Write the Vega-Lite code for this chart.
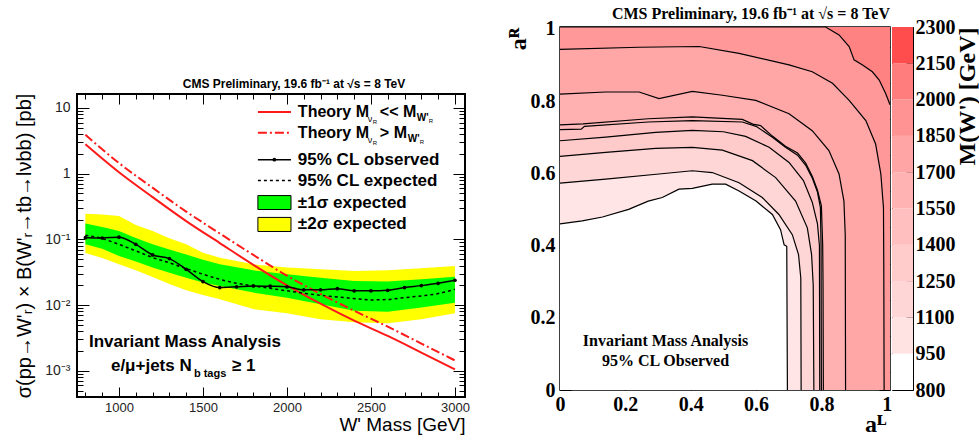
{
"$schema": "https://vega.github.io/schema/vega-lite/v6.json",
"background": "white",
"padding": {"left": 13, "top": 5, "right": 5, "bottom": 5},
"bounds": "full",
"align": "none",
"spacing": 34,
"config": {
  "view": {"stroke": null},
  "font": "Liberation Sans",
  "axis": {"grid": false, "domain": false, "tickColor": "black", "labelColor": "black", "titleColor": "black", "labelFlush": false, "labelOverlap": false, "tickWidth": 1, "zindex": 1}
},
"datasets": {
  "bands": [
    {"mass": 800, "m2": 0.062, "m1": 0.084, "p1": 0.175, "p2": 0.245},
    {"mass": 900, "m2": 0.052, "m1": 0.072, "p1": 0.155, "p2": 0.24},
    {"mass": 1000, "m2": 0.0417, "m1": 0.0559, "p1": 0.134, "p2": 0.226},
    {"mass": 1100, "m2": 0.034, "m1": 0.046, "p1": 0.105, "p2": 0.165},
    {"mass": 1200, "m2": 0.0268, "m1": 0.0372, "p1": 0.084, "p2": 0.134},
    {"mass": 1300, "m2": 0.021, "m1": 0.031, "p1": 0.07, "p2": 0.104},
    {"mass": 1400, "m2": 0.0168, "m1": 0.0262, "p1": 0.059, "p2": 0.084},
    {"mass": 1500, "m2": 0.0142, "m1": 0.022, "p1": 0.049, "p2": 0.0628},
    {"mass": 1600, "m2": 0.0123, "m1": 0.0196, "p1": 0.0417, "p2": 0.0527},
    {"mass": 1800, "m2": 0.0087, "m1": 0.0155, "p1": 0.0338, "p2": 0.0417},
    {"mass": 2000, "m2": 0.0075, "m1": 0.013, "p1": 0.0295, "p2": 0.0372},
    {"mass": 2200, "m2": 0.0061, "m1": 0.0103, "p1": 0.0262, "p2": 0.035},
    {"mass": 2400, "m2": 0.0055, "m1": 0.0082, "p1": 0.0233, "p2": 0.033},
    {"mass": 2600, "m2": 0.0053, "m1": 0.0079, "p1": 0.0228, "p2": 0.0338},
    {"mass": 2800, "m2": 0.0061, "m1": 0.0092, "p1": 0.0247, "p2": 0.0363},
    {"mass": 3000, "m2": 0.0075, "m1": 0.0109, "p1": 0.0271, "p2": 0.0394}
  ],
  "limits": [
    {"mass": 800, "obs": 0.106, "exp": 0.116},
    {"mass": 900, "obs": 0.105, "exp": 0.103},
    {"mass": 1000, "obs": 0.108, "exp": 0.084},
    {"mass": 1100, "obs": 0.084, "exp": 0.067},
    {"mass": 1200, "obs": 0.058, "exp": 0.053},
    {"mass": 1300, "obs": 0.051, "exp": 0.044},
    {"mass": 1400, "obs": 0.035, "exp": 0.036},
    {"mass": 1500, "obs": 0.0228, "exp": 0.0295},
    {"mass": 1600, "obs": 0.0185, "exp": 0.0247},
    {"mass": 1700, "obs": 0.019, "exp": 0.0215},
    {"mass": 1800, "obs": 0.0196, "exp": 0.0196},
    {"mass": 1900, "obs": 0.0194, "exp": 0.018},
    {"mass": 2000, "obs": 0.019, "exp": 0.0165},
    {"mass": 2100, "obs": 0.0171, "exp": 0.0152},
    {"mass": 2200, "obs": 0.0171, "exp": 0.0141},
    {"mass": 2300, "obs": 0.0178, "exp": 0.0133},
    {"mass": 2400, "obs": 0.0165, "exp": 0.0126},
    {"mass": 2500, "obs": 0.0165, "exp": 0.012},
    {"mass": 2600, "obs": 0.0168, "exp": 0.0122},
    {"mass": 2700, "obs": 0.0185, "exp": 0.013},
    {"mass": 2800, "obs": 0.0198, "exp": 0.0138},
    {"mass": 2900, "obs": 0.0215, "exp": 0.015},
    {"mass": 3000, "obs": 0.0239, "exp": 0.0174}
  ],
  "theory": [
    {"mass": 800, "th1": 2.8, "th2": 3.9},
    {"mass": 1000, "th1": 1.05, "th2": 1.45},
    {"mass": 1200, "th1": 0.44, "th2": 0.61},
    {"mass": 1400, "th1": 0.19, "th2": 0.265},
    {"mass": 1600, "th1": 0.088, "th2": 0.123},
    {"mass": 1800, "th1": 0.041, "th2": 0.058},
    {"mass": 2000, "th1": 0.02, "th2": 0.028},
    {"mass": 2200, "th1": 0.0105, "th2": 0.0148},
    {"mass": 2400, "th1": 0.0058, "th2": 0.0082},
    {"mass": 2600, "th1": 0.0034, "th2": 0.0047},
    {"mass": 2800, "th1": 0.0019, "th2": 0.0026},
    {"mass": 3000, "th1": 0.00105, "th2": 0.00144}
  ],
  "scale": [
    {"lo": 800, "hi": 950}, {"lo": 950, "hi": 1100}, {"lo": 1100, "hi": 1250}, {"lo": 1250, "hi": 1400},
    {"lo": 1400, "hi": 1550}, {"lo": 1550, "hi": 1700}, {"lo": 1700, "hi": 1850}, {"lo": 1850, "hi": 2000},
    {"lo": 2000, "hi": 2150}, {"lo": 2150, "hi": 2300}
  ],
  "contours": [
    {"lev": 950, "i": 0, "x": 0, "y": 0.46}, {"lev": 950, "i": 1, "x": 0.068, "y": 0.468}, {"lev": 950, "i": 2, "x": 0.13, "y": 0.479},
    {"lev": 950, "i": 3, "x": 0.21, "y": 0.5}, {"lev": 950, "i": 4, "x": 0.27, "y": 0.523}, {"lev": 950, "i": 5, "x": 0.313, "y": 0.533},
    {"lev": 950, "i": 6, "x": 0.364, "y": 0.556}, {"lev": 950, "i": 7, "x": 0.405, "y": 0.558}, {"lev": 950, "i": 8, "x": 0.466, "y": 0.57},
    {"lev": 950, "i": 9, "x": 0.507, "y": 0.57}, {"lev": 950, "i": 10, "x": 0.548, "y": 0.551}, {"lev": 950, "i": 11, "x": 0.6, "y": 0.523},
    {"lev": 950, "i": 12, "x": 0.65, "y": 0.486}, {"lev": 950, "i": 13, "x": 0.675, "y": 0.444}, {"lev": 950, "i": 14, "x": 0.686, "y": 0.402},
    {"lev": 950, "i": 15, "x": 0.694, "y": 0.398}, {"lev": 950, "i": 16, "x": 0.695, "y": 0.2}, {"lev": 950, "i": 17, "x": 0.696, "y": 0},
    {"lev": 1100, "i": 0, "x": 0, "y": 0.5725}, {"lev": 1100, "i": 1, "x": 0.14, "y": 0.584}, {"lev": 1100, "i": 2, "x": 0.303, "y": 0.598},
    {"lev": 1100, "i": 3, "x": 0.405, "y": 0.607}, {"lev": 1100, "i": 4, "x": 0.466, "y": 0.602}, {"lev": 1100, "i": 5, "x": 0.548, "y": 0.574},
    {"lev": 1100, "i": 6, "x": 0.619, "y": 0.533}, {"lev": 1100, "i": 7, "x": 0.67, "y": 0.486}, {"lev": 1100, "i": 8, "x": 0.711, "y": 0.43},
    {"lev": 1100, "i": 9, "x": 0.73, "y": 0.375}, {"lev": 1100, "i": 10, "x": 0.737, "y": 0.31}, {"lev": 1100, "i": 11, "x": 0.738, "y": 0},
    {"lev": 1250, "i": 0, "x": 0, "y": 0.647}, {"lev": 1250, "i": 1, "x": 0.14, "y": 0.658}, {"lev": 1250, "i": 2, "x": 0.293, "y": 0.669},
    {"lev": 1250, "i": 3, "x": 0.405, "y": 0.672}, {"lev": 1250, "i": 4, "x": 0.497, "y": 0.664}, {"lev": 1250, "i": 5, "x": 0.589, "y": 0.635},
    {"lev": 1250, "i": 6, "x": 0.66, "y": 0.588}, {"lev": 1250, "i": 7, "x": 0.721, "y": 0.523}, {"lev": 1250, "i": 8, "x": 0.757, "y": 0.449},
    {"lev": 1250, "i": 9, "x": 0.77, "y": 0.375}, {"lev": 1250, "i": 10, "x": 0.775, "y": 0.291}, {"lev": 1250, "i": 11, "x": 0.777, "y": 0},
    {"lev": 1400, "i": 0, "x": 0, "y": 0.69}, {"lev": 1400, "i": 1, "x": 0.14, "y": 0.7}, {"lev": 1400, "i": 2, "x": 0.293, "y": 0.713},
    {"lev": 1400, "i": 3, "x": 0.405, "y": 0.719}, {"lev": 1400, "i": 4, "x": 0.5, "y": 0.715}, {"lev": 1400, "i": 5, "x": 0.568, "y": 0.702},
    {"lev": 1400, "i": 6, "x": 0.64, "y": 0.672}, {"lev": 1400, "i": 7, "x": 0.701, "y": 0.63}, {"lev": 1400, "i": 8, "x": 0.745, "y": 0.58},
    {"lev": 1400, "i": 9, "x": 0.772, "y": 0.52}, {"lev": 1400, "i": 10, "x": 0.788, "y": 0.46}, {"lev": 1400, "i": 11, "x": 0.794, "y": 0.4},
    {"lev": 1400, "i": 12, "x": 0.795, "y": 0},
    {"lev": 1550, "i": 0, "x": 0, "y": 0.721}, {"lev": 1550, "i": 1, "x": 0.065, "y": 0.722}, {"lev": 1550, "i": 2, "x": 0.075, "y": 0.73},
    {"lev": 1550, "i": 3, "x": 0.27, "y": 0.742}, {"lev": 1550, "i": 4, "x": 0.405, "y": 0.746}, {"lev": 1550, "i": 5, "x": 0.558, "y": 0.742},
    {"lev": 1550, "i": 6, "x": 0.6, "y": 0.73}, {"lev": 1550, "i": 7, "x": 0.65, "y": 0.7}, {"lev": 1550, "i": 8, "x": 0.69, "y": 0.672},
    {"lev": 1550, "i": 9, "x": 0.727, "y": 0.65}, {"lev": 1550, "i": 10, "x": 0.752, "y": 0.622}, {"lev": 1550, "i": 11, "x": 0.773, "y": 0.585},
    {"lev": 1550, "i": 12, "x": 0.788, "y": 0.548}, {"lev": 1550, "i": 13, "x": 0.797, "y": 0.505}, {"lev": 1550, "i": 14, "x": 0.799, "y": 0.4},
    {"lev": 1550, "i": 15, "x": 0.8, "y": 0},
    {"lev": 1700, "i": 0, "x": 0, "y": 0.734}, {"lev": 1700, "i": 1, "x": 0.07, "y": 0.737}, {"lev": 1700, "i": 2, "x": 0.27, "y": 0.751},
    {"lev": 1700, "i": 3, "x": 0.405, "y": 0.756}, {"lev": 1700, "i": 4, "x": 0.558, "y": 0.749}, {"lev": 1700, "i": 5, "x": 0.59, "y": 0.736},
    {"lev": 1700, "i": 6, "x": 0.614, "y": 0.732}, {"lev": 1700, "i": 7, "x": 0.65, "y": 0.703}, {"lev": 1700, "i": 8, "x": 0.69, "y": 0.675},
    {"lev": 1700, "i": 9, "x": 0.727, "y": 0.656}, {"lev": 1700, "i": 10, "x": 0.752, "y": 0.628}, {"lev": 1700, "i": 11, "x": 0.773, "y": 0.59},
    {"lev": 1700, "i": 12, "x": 0.788, "y": 0.553}, {"lev": 1700, "i": 13, "x": 0.8, "y": 0.51}, {"lev": 1700, "i": 14, "x": 0.804, "y": 0.4},
    {"lev": 1700, "i": 15, "x": 0.805, "y": 0.3}, {"lev": 1700, "i": 16, "x": 0.806, "y": 0},
    {"lev": 1850, "i": 0, "x": 0, "y": 0.819}, {"lev": 1850, "i": 1, "x": 0.14, "y": 0.825}, {"lev": 1850, "i": 2, "x": 0.242, "y": 0.825},
    {"lev": 1850, "i": 3, "x": 0.303, "y": 0.807}, {"lev": 1850, "i": 4, "x": 0.405, "y": 0.827}, {"lev": 1850, "i": 5, "x": 0.497, "y": 0.816},
    {"lev": 1850, "i": 6, "x": 0.599, "y": 0.802}, {"lev": 1850, "i": 7, "x": 0.701, "y": 0.765}, {"lev": 1850, "i": 8, "x": 0.772, "y": 0.718},
    {"lev": 1850, "i": 9, "x": 0.823, "y": 0.663}, {"lev": 1850, "i": 10, "x": 0.854, "y": 0.598}, {"lev": 1850, "i": 11, "x": 0.869, "y": 0.523},
    {"lev": 1850, "i": 12, "x": 0.873, "y": 0.43}, {"lev": 1850, "i": 13, "x": 0.874, "y": 0},
    {"lev": 2000, "i": 0, "x": 0, "y": 0.943}, {"lev": 2000, "i": 1, "x": 0.242, "y": 0.949}, {"lev": 2000, "i": 2, "x": 0.426, "y": 0.951},
    {"lev": 2000, "i": 3, "x": 0.548, "y": 0.932}, {"lev": 2000, "i": 4, "x": 0.701, "y": 0.9}, {"lev": 2000, "i": 5, "x": 0.772, "y": 0.881},
    {"lev": 2000, "i": 6, "x": 0.834, "y": 0.849}, {"lev": 2000, "i": 7, "x": 0.885, "y": 0.802}, {"lev": 2000, "i": 8, "x": 0.936, "y": 0.746},
    {"lev": 2000, "i": 9, "x": 0.966, "y": 0.681}, {"lev": 2000, "i": 10, "x": 0.982, "y": 0.598}, {"lev": 2000, "i": 11, "x": 0.99, "y": 0.505},
    {"lev": 2000, "i": 12, "x": 0.991, "y": 0.337}, {"lev": 2000, "i": 13, "x": 0.992, "y": 0},
    {"lev": 2150, "i": 0, "x": 0, "y": 1.005}, {"lev": 2150, "i": 1, "x": 0.813, "y": 1.005}, {"lev": 2150, "i": 2, "x": 0.854, "y": 0.983},
    {"lev": 2150, "i": 3, "x": 0.885, "y": 0.951}, {"lev": 2150, "i": 4, "x": 0.9, "y": 0.914}, {"lev": 2150, "i": 5, "x": 0.926, "y": 0.9},
    {"lev": 2150, "i": 6, "x": 0.956, "y": 0.881}, {"lev": 2150, "i": 7, "x": 0.977, "y": 0.858}, {"lev": 2150, "i": 8, "x": 0.997, "y": 0.82},
    {"lev": 2150, "i": 9, "x": 1.01, "y": 0.79}
  ]
},
"hconcat": [
  {
    "bounds": "flush",
    "spacing": 0,
    "vconcat": [
      {"width": 388, "height": 89, "view": {"fill": "white", "stroke": null}, "data": {"values": [{}]}, "mark": {"type": "text", "text": ""}},
      {
        "width": 388, "height": 303,
        "title": {"text": "CMS Preliminary, 19.6 fb⁻¹ at √s = 8 TeV", "frame": "group", "font": "Liberation Sans", "fontSize": 12, "fontWeight": "bold", "anchor": "middle", "dx": 23, "offset": 2, "color": "black"},
        "view": {"stroke": "black", "strokeWidth": 2},
        "resolve": {"axis": {"x": "independent", "y": "independent"}},
        "layer": [
          {
            "layer": [
              {
                "data": {"name": "bands"},
                "mark": {"type": "area", "color": "#ffff00", "opacity": 1},
                "encoding": {
                  "x": {"field": "mass", "type": "quantitative", "scale": {"domain": [750, 3060], "nice": false, "zero": false},
                        "axis": {"orient": "bottom", "values": [1000, 1500, 2000, 2500, 3000], "format": "d", "labelOverlap": false,
                                 "tickSize": -10, "labelFontSize": 13, "labelColor": "#222", "labelPadding": 14,
                                 "title": "W' Mass [GeV]", "titleFontSize": 19, "titleFontWeight": "normal", "titleAnchor": "end", "titlePadding": 1}},
                  "y": {"field": "p2", "type": "quantitative", "scale": {"type": "log", "domain": [0.0004, 16.3], "nice": false},
                        "axis": {"orient": "left", "values": [0.001, 0.01, 0.1, 1, 10],
                                 "labelExpr": "datum.value > 9.5 ? '10' : datum.value > 0.95 ? '1' : datum.value > 0.095 ? '10⁻¹' : datum.value > 0.0095 ? '10⁻²' : '10⁻³'",
                                 "labelOverlap": false, "tickSize": -12, "labelFontSize": 14, "labelColor": "#222", "labelPadding": 19,
                                 "title": "σ(pp→W'ᵣ) × B(W'ᵣ→tb→lνbb) [pb]", "titleFontSize": 20, "titleFontWeight": "normal", "titlePadding": 10}},
                  "y2": {"field": "m2"}
                }
              },
              {
                "data": {"name": "bands"},
                "mark": {"type": "area", "color": "#00ff00", "opacity": 1},
                "encoding": {"x": {"field": "mass", "type": "quantitative"}, "y": {"field": "p1", "type": "quantitative"}, "y2": {"field": "m1"}}
              },
              {
                "data": {"name": "theory"},
                "mark": {"type": "line", "color": "#ff1a1a", "strokeWidth": 2, "interpolate": "monotone"},
                "encoding": {"x": {"field": "mass", "type": "quantitative"}, "y": {"field": "th1", "type": "quantitative"}}
              },
              {
                "data": {"values": [{}]},
                "mark": {"type": "rule", "color": "#ff1a1a", "strokeWidth": 2},
                "encoding": {"x": {"datum": 1827}, "x2": {"datum": 2024}, "y": {"datum": 8.7}}
              },
              {
                "data": {"values": [{}]},
                "mark": {"type": "rule", "color": "#ff1a1a", "strokeWidth": 2, "strokeDash": [9, 3, 2, 3]},
                "encoding": {"x": {"datum": 1827}, "x2": {"datum": 2024}, "y": {"datum": 4.18}}
              },
              {
                "data": {"values": [{}]},
                "mark": {"type": "rule", "color": "black", "strokeWidth": 1.5},
                "encoding": {"x": {"datum": 1827}, "x2": {"datum": 2024}, "y": {"datum": 1.63}}
              },
              {
                "data": {"values": [{}]},
                "mark": {"type": "point", "filled": true, "color": "black", "size": 14, "opacity": 1},
                "encoding": {"x": {"datum": 1925}, "y": {"datum": 1.63}}
              },
              {
                "data": {"values": [{}]},
                "mark": {"type": "rule", "color": "black", "strokeWidth": 1.5, "strokeDash": [3, 3]},
                "encoding": {"x": {"datum": 1827}, "x2": {"datum": 2024}, "y": {"datum": 0.784}}
              },
              {
                "data": {"values": [{}]},
                "mark": {"type": "rect", "fill": "#00ff00", "stroke": "black", "strokeWidth": 1},
                "encoding": {"x": {"datum": 1827}, "x2": {"datum": 2024}, "y": {"datum": 0.464}, "y2": {"datum": 0.285}}
              },
              {
                "data": {"values": [{}]},
                "mark": {"type": "rect", "fill": "#ffff00", "stroke": "black", "strokeWidth": 1},
                "encoding": {"x": {"datum": 1827}, "x2": {"datum": 2024}, "y": {"datum": 0.216}, "y2": {"datum": 0.132}}
              },
              {
                "data": {"values": [{"t": "Theory M"}]},
                "mark": {"type": "text", "align": "left", "baseline": "middle", "font": "Liberation Sans", "fontWeight": "bold", "fontSize": 16, "color": "black"},
                "encoding": {"x": {"datum": 2065}, "y": {"datum": 8.7}, "text": {"field": "t"}}
              },
              {
                "data": {"values": [{"t": "ν"}]},
                "mark": {"type": "text", "align": "left", "baseline": "middle", "font": "Liberation Sans", "fontSize": 9, "dx": 70, "dy": 7, "color": "black"},
                "encoding": {"x": {"datum": 2065}, "y": {"datum": 8.7}, "text": {"field": "t"}}
              },
              {
                "data": {"values": [{"t": "R"}]},
                "mark": {"type": "text", "align": "left", "baseline": "middle", "font": "Liberation Sans", "fontSize": 6, "dx": 75, "dy": 10, "color": "black"},
                "encoding": {"x": {"datum": 2065}, "y": {"datum": 8.7}, "text": {"field": "t"}}
              },
              {
                "data": {"values": [{"t": "<< M"}]},
                "mark": {"type": "text", "align": "left", "baseline": "middle", "font": "Liberation Sans", "fontWeight": "bold", "fontSize": 16, "dx": 82, "color": "black"},
                "encoding": {"x": {"datum": 2065}, "y": {"datum": 8.7}, "text": {"field": "t"}}
              },
              {
                "data": {"values": [{"t": "W'"}]},
                "mark": {"type": "text", "align": "left", "baseline": "middle", "font": "Liberation Sans", "fontWeight": "bold", "fontSize": 10, "dx": 119, "dy": 6, "color": "black"},
                "encoding": {"x": {"datum": 2065}, "y": {"datum": 8.7}, "text": {"field": "t"}}
              },
              {
                "data": {"values": [{"t": "R"}]},
                "mark": {"type": "text", "align": "left", "baseline": "middle", "font": "Liberation Sans", "fontSize": 6, "dx": 131, "dy": 9, "color": "black"},
                "encoding": {"x": {"datum": 2065}, "y": {"datum": 8.7}, "text": {"field": "t"}}
              },
              {
                "data": {"values": [{"t": "Theory M"}]},
                "mark": {"type": "text", "align": "left", "baseline": "middle", "font": "Liberation Sans", "fontWeight": "bold", "fontSize": 16, "color": "black"},
                "encoding": {"x": {"datum": 2065}, "y": {"datum": 4.18}, "text": {"field": "t"}}
              },
              {
                "data": {"values": [{"t": "ν"}]},
                "mark": {"type": "text", "align": "left", "baseline": "middle", "font": "Liberation Sans", "fontSize": 9, "dx": 70, "dy": 7, "color": "black"},
                "encoding": {"x": {"datum": 2065}, "y": {"datum": 4.18}, "text": {"field": "t"}}
              },
              {
                "data": {"values": [{"t": "R"}]},
                "mark": {"type": "text", "align": "left", "baseline": "middle", "font": "Liberation Sans", "fontSize": 6, "dx": 75, "dy": 10, "color": "black"},
                "encoding": {"x": {"datum": 2065}, "y": {"datum": 4.18}, "text": {"field": "t"}}
              },
              {
                "data": {"values": [{"t": "> M"}]},
                "mark": {"type": "text", "align": "left", "baseline": "middle", "font": "Liberation Sans", "fontWeight": "bold", "fontSize": 16, "dx": 82, "color": "black"},
                "encoding": {"x": {"datum": 2065}, "y": {"datum": 4.18}, "text": {"field": "t"}}
              },
              {
                "data": {"values": [{"t": "W'"}]},
                "mark": {"type": "text", "align": "left", "baseline": "middle", "font": "Liberation Sans", "fontWeight": "bold", "fontSize": 10, "dx": 110, "dy": 6, "color": "black"},
                "encoding": {"x": {"datum": 2065}, "y": {"datum": 4.18}, "text": {"field": "t"}}
              },
              {
                "data": {"values": [{"t": "R"}]},
                "mark": {"type": "text", "align": "left", "baseline": "middle", "font": "Liberation Sans", "fontSize": 6, "dx": 122, "dy": 9, "color": "black"},
                "encoding": {"x": {"datum": 2065}, "y": {"datum": 4.18}, "text": {"field": "t"}}
              },
              {
                "data": {"values": [{"t": "95% CL observed"}]},
                "mark": {"type": "text", "align": "left", "baseline": "middle", "font": "Liberation Sans", "fontWeight": "bold", "fontSize": 17, "color": "black"},
                "encoding": {"x": {"datum": 2065}, "y": {"datum": 1.63}, "text": {"field": "t"}}
              },
              {
                "data": {"values": [{"t": "95% CL expected"}]},
                "mark": {"type": "text", "align": "left", "baseline": "middle", "font": "Liberation Sans", "fontWeight": "bold", "fontSize": 17, "color": "black"},
                "encoding": {"x": {"datum": 2065}, "y": {"datum": 0.784}, "text": {"field": "t"}}
              },
              {
                "data": {"values": [{"t": "±1σ expected"}]},
                "mark": {"type": "text", "align": "left", "baseline": "middle", "font": "Liberation Sans", "fontWeight": "bold", "fontSize": 17, "color": "black"},
                "encoding": {"x": {"datum": 2065}, "y": {"datum": 0.364}, "text": {"field": "t"}}
              },
              {
                "data": {"values": [{"t": "±2σ expected"}]},
                "mark": {"type": "text", "align": "left", "baseline": "middle", "font": "Liberation Sans", "fontWeight": "bold", "fontSize": 17, "color": "black"},
                "encoding": {"x": {"datum": 2065}, "y": {"datum": 0.169}, "text": {"field": "t"}}
              },
              {
                "data": {"values": [{"t": "Invariant Mass Analysis"}]},
                "mark": {"type": "text", "align": "left", "baseline": "middle", "font": "Liberation Sans", "fontWeight": "bold", "fontSize": 17, "color": "black"},
                "encoding": {"x": {"datum": 821}, "y": {"datum": 0.00275}, "text": {"field": "t"}}
              },
              {
                "data": {"values": [{"t": "e/μ+jets N"}]},
                "mark": {"type": "text", "align": "left", "baseline": "middle", "font": "Liberation Sans", "fontWeight": "bold", "fontSize": 17, "color": "black"},
                "encoding": {"x": {"datum": 952}, "y": {"datum": 0.00119}, "text": {"field": "t"}}
              },
              {
                "data": {"values": [{"t": "b tags"}]},
                "mark": {"type": "text", "align": "left", "baseline": "middle", "font": "Liberation Sans", "fontWeight": "bold", "fontSize": 11, "dx": 83, "dy": 8, "color": "black"},
                "encoding": {"x": {"datum": 952}, "y": {"datum": 0.00119}, "text": {"field": "t"}}
              },
              {
                "data": {"values": [{"t": "≥ 1"}]},
                "mark": {"type": "text", "align": "left", "baseline": "middle", "font": "Liberation Sans", "fontWeight": "bold", "fontSize": 17, "dx": 121, "color": "black"},
                "encoding": {"x": {"datum": 952}, "y": {"datum": 0.00119}, "text": {"field": "t"}}
              }
            ]
          },
          {
            "data": {"name": "limits"},
            "mark": {"type": "line", "color": "black", "strokeWidth": 1.5, "strokeDash": [3, 3], "interpolate": "monotone"},
            "encoding": {
              "x": {"field": "mass", "type": "quantitative",
                    "axis": {"orient": "bottom", "labels": false, "title": null, "tickSize": -5,
                             "values": [800,900,1100,1200,1300,1400,1600,1700,1800,1900,2100,2200,2300,2400,2600,2700,2800,2900]}},
              "y": {"field": "exp", "type": "quantitative",
                    "axis": {"orient": "left", "labels": false, "title": null, "tickSize": -6,
                             "values": [0.0005,0.0006,0.0007,0.0008,0.0009,0.002,0.003,0.004,0.005,0.006,0.007,0.008,0.009,0.02,0.03,0.04,0.05,0.06,0.07,0.08,0.09,0.2,0.3,0.4,0.5,0.6,0.7,0.8,0.9,2,3,4,5,6,7,8,9]}}
            }
          },
          {
            "data": {"name": "theory"},
            "mark": {"type": "line", "color": "#ff1a1a", "strokeWidth": 2, "strokeDash": [9, 3, 2, 3], "interpolate": "monotone"},
            "encoding": {
              "x": {"field": "mass", "type": "quantitative",
                    "axis": {"orient": "top", "labels": false, "title": null, "tickSize": -5,
                             "values": [800,900,1100,1200,1300,1400,1600,1700,1800,1900,2100,2200,2300,2400,2600,2700,2800,2900]}},
              "y": {"field": "th2", "type": "quantitative",
                    "axis": {"orient": "right", "labels": false, "title": null, "tickSize": -6,
                             "values": [0.0005,0.0006,0.0007,0.0008,0.0009,0.002,0.003,0.004,0.005,0.006,0.007,0.008,0.009,0.02,0.03,0.04,0.05,0.06,0.07,0.08,0.09,0.2,0.3,0.4,0.5,0.6,0.7,0.8,0.9,2,3,4,5,6,7,8,9]}}
            }
          },
          {
            "data": {"name": "limits"},
            "mark": {"type": "line", "color": "black", "strokeWidth": 1.5, "interpolate": "monotone", "point": {"filled": true, "color": "black", "size": 14}},
            "encoding": {
              "x": {"field": "mass", "type": "quantitative",
                    "axis": {"orient": "top", "labels": false, "title": null, "values": [1000, 1500, 2000, 2500, 3000], "tickSize": -10}},
              "y": {"field": "obs", "type": "quantitative",
                    "axis": {"orient": "right", "labels": false, "title": null, "values": [0.001, 0.01, 0.1, 1, 10], "tickSize": -12}}
            }
          }
        ]
      }
    ]
  },
  {
    "bounds": "flush",
    "spacing": 0,
    "vconcat": [
      {"width": 330, "height": 22, "view": {"fill": "white", "stroke": null}, "data": {"values": [{}]}, "mark": {"type": "text", "text": ""}},
      {
        "bounds": "flush",
        "spacing": 2,
        "hconcat": [
          {
            "width": 330, "height": 363,
            "title": {"text": "CMS Preliminary, 19.6 fb⁻¹ at √s = 8 TeV", "frame": "group", "font": "Liberation Serif", "fontSize": 16, "fontWeight": "bold", "anchor": "end", "offset": -3, "color": "black"},
            "view": {"stroke": "black", "strokeWidth": 1.5},
            "resolve": {"axis": {"x": "independent", "y": "independent"}},
            "layer": [
              {
                "data": {"name": "contours"},
                "layer": [
                  {
                    "data": {"values": [{}]},
                    "mark": {"type": "rect", "color": "#ff8282", "opacity": 1},
                    "encoding": {
                      "x": {"datum": 0, "type": "quantitative", "scale": {"domain": [0, 1.01], "nice": false, "zero": false},
                            "axis": {"orient": "bottom", "values": [0,0.05,0.1,0.15,0.2,0.25,0.3,0.35,0.4,0.45,0.5,0.55,0.6,0.65,0.7,0.75,0.8,0.85,0.9,0.95,1],
                                     "labelExpr": "abs(datum.value*5 - round(datum.value*5)) < 0.001 ? (datum.value == 0 ? '0' : datum.value > 0.99 ? '1' : format(datum.value, '.1f')) : ''",
                                     "tickSize": {"condition": {"test": "abs(datum.value*5 - round(datum.value*5)) < 0.001", "value": -11}, "value": -6},
                                     "labelFont": "Liberation Serif", "labelFontWeight": "bold", "labelFontSize": 20, "labelPadding": 15,
                                     "title": "aᴸ", "titleFont": "Liberation Serif", "titleFontWeight": "bold", "titleFontSize": 24, "titleAnchor": "end", "titleX": 326, "titleAlign": "right", "titlePadding": -2}},
                      "x2": {"datum": 1.01},
                      "y": {"datum": 0, "type": "quantitative", "scale": {"domain": [0, 1.005], "nice": false, "zero": false},
                            "axis": {"orient": "left", "values": [0,0.05,0.1,0.15,0.2,0.25,0.3,0.35,0.4,0.45,0.5,0.55,0.6,0.65,0.7,0.75,0.8,0.85,0.9,0.95,1],
                                     "labelExpr": "abs(datum.value*5 - round(datum.value*5)) < 0.001 ? (datum.value == 0 ? '0' : datum.value > 0.99 ? '1' : format(datum.value, '.1f')) : ''",
                                     "tickSize": {"condition": {"test": "abs(datum.value*5 - round(datum.value*5)) < 0.001", "value": -11}, "value": -6},
                                     "labelFont": "Liberation Serif", "labelFontWeight": "bold", "labelFontSize": 20, "labelPadding": 16,
                                     "title": "aᴿ", "titleFont": "Liberation Serif", "titleFontWeight": "bold", "titleFontSize": 24, "titleAnchor": "end", "titleAngle": 270, "titleAlign": "right", "titlePadding": 0}},
                      "y2": {"datum": 1.005}
                    }
                  },
                  {"transform": [{"filter": "datum.lev == 2150"}], "mark": {"type": "area", "color": "#ff9999", "opacity": 1},
                   "encoding": {"x": {"field": "x", "type": "quantitative"}, "y": {"field": "y", "type": "quantitative", "stack": null}}},
                  {"transform": [{"filter": "datum.lev == 2000"}], "mark": {"type": "area", "color": "#ffa6a6", "opacity": 1},
                   "encoding": {"x": {"field": "x", "type": "quantitative"}, "y": {"field": "y", "type": "quantitative", "stack": null}}},
                  {"transform": [{"filter": "datum.lev == 1850"}], "mark": {"type": "area", "color": "#ffb0b0", "opacity": 1},
                   "encoding": {"x": {"field": "x", "type": "quantitative"}, "y": {"field": "y", "type": "quantitative", "stack": null}}},
                  {"transform": [{"filter": "datum.lev == 1700"}], "mark": {"type": "area", "color": "#ffb9b9", "opacity": 1},
                   "encoding": {"x": {"field": "x", "type": "quantitative"}, "y": {"field": "y", "type": "quantitative", "stack": null}}},
                  {"transform": [{"filter": "datum.lev == 1550"}], "mark": {"type": "area", "color": "#ffc1c1", "opacity": 1},
                   "encoding": {"x": {"field": "x", "type": "quantitative"}, "y": {"field": "y", "type": "quantitative", "stack": null}}},
                  {"transform": [{"filter": "datum.lev == 1400"}], "mark": {"type": "area", "color": "#ffcaca", "opacity": 1},
                   "encoding": {"x": {"field": "x", "type": "quantitative"}, "y": {"field": "y", "type": "quantitative", "stack": null}}},
                  {"transform": [{"filter": "datum.lev == 1250"}], "mark": {"type": "area", "color": "#ffd6d6", "opacity": 1},
                   "encoding": {"x": {"field": "x", "type": "quantitative"}, "y": {"field": "y", "type": "quantitative", "stack": null}}},
                  {"transform": [{"filter": "datum.lev == 1100"}], "mark": {"type": "area", "color": "#ffe5e5", "opacity": 1},
                   "encoding": {"x": {"field": "x", "type": "quantitative"}, "y": {"field": "y", "type": "quantitative", "stack": null}}},
                  {"transform": [{"filter": "datum.lev == 950"}], "mark": {"type": "area", "color": "#ffffff", "opacity": 1},
                   "encoding": {"x": {"field": "x", "type": "quantitative"}, "y": {"field": "y", "type": "quantitative", "stack": null}}},
                  {
                    "data": {"values": [{"t": "Invariant Mass Analysis"}]},
                    "mark": {"type": "text", "align": "center", "baseline": "middle", "font": "Liberation Serif", "fontWeight": "bold", "fontSize": 16, "color": "black"},
                    "encoding": {"x": {"datum": 0.323}, "y": {"datum": 0.136}, "text": {"field": "t"}}
                  },
                  {
                    "data": {"values": [{"t": "95% CL Observed"}]},
                    "mark": {"type": "text", "align": "center", "baseline": "middle", "font": "Liberation Serif", "fontWeight": "bold", "fontSize": 16, "color": "black"},
                    "encoding": {"x": {"datum": 0.323}, "y": {"datum": 0.08}, "text": {"field": "t"}}
                  }
                ]
              },
              {
                "data": {"name": "contours"},
                "mark": {"type": "line", "color": "black", "strokeWidth": 1.2},
                "encoding": {
                  "x": {"field": "x", "type": "quantitative",
                        "axis": {"orient": "top", "labels": false, "title": null, "values": [0,0.05,0.1,0.15,0.2,0.25,0.3,0.35,0.4,0.45,0.5,0.55,0.6,0.65,0.7,0.75,0.8,0.85,0.9,0.95,1],
                                 "tickSize": {"condition": {"test": "abs(datum.value*5 - round(datum.value*5)) < 0.001", "value": -11}, "value": -6}}},
                  "y": {"field": "y", "type": "quantitative",
                        "axis": {"orient": "right", "labels": false, "title": null, "values": [0,0.05,0.1,0.15,0.2,0.25,0.3,0.35,0.4,0.45,0.5,0.55,0.6,0.65,0.7,0.75,0.8,0.85,0.9,0.95,1],
                                 "tickSize": {"condition": {"test": "abs(datum.value*5 - round(datum.value*5)) < 0.001", "value": -11}, "value": -6}}},
                  "detail": {"field": "lev", "type": "nominal"},
                  "order": {"field": "i", "type": "quantitative"}
                }
              }
            ]
          },
          {
            "width": 21, "height": 363,
            "data": {"name": "scale"},
            "view": {"stroke": "black", "strokeWidth": 1},
            "mark": {"type": "rect"},
            "encoding": {
              "y": {"field": "lo", "type": "quantitative", "scale": {"domain": [800, 2300], "nice": false, "zero": false},
                    "axis": {"orient": "right", "values": [800,950,1100,1250,1400,1550,1700,1850,2000,2150,2300], "format": "d", "tickSize": -7,
                             "labelFont": "Liberation Serif", "labelFontWeight": "bold", "labelFontSize": 20, "labelPadding": 9,
                             "title": "M(W') [GeV]", "titleFont": "Liberation Serif", "titleFontWeight": "bold", "titleFontSize": 24,
                             "titleAnchor": "end", "titleAngle": 270, "titleAlign": "right", "titleBaseline": "top", "titlePadding": 0}},
              "y2": {"field": "hi"},
              "color": {"field": "lo", "type": "nominal", "legend": null,
                        "scale": {"domain": [800,950,1100,1250,1400,1550,1700,1850,2000,2150],
                                  "range": ["#ffffff","#ffe3e3","#ffd6d6","#ffcbcb","#ffbfbf","#ffb3b3","#ffa5a5","#ff9393","#ff7d7d","#ff4c4c"]}}
            }
          }
        ]
      }
    ]
  }
]
}
